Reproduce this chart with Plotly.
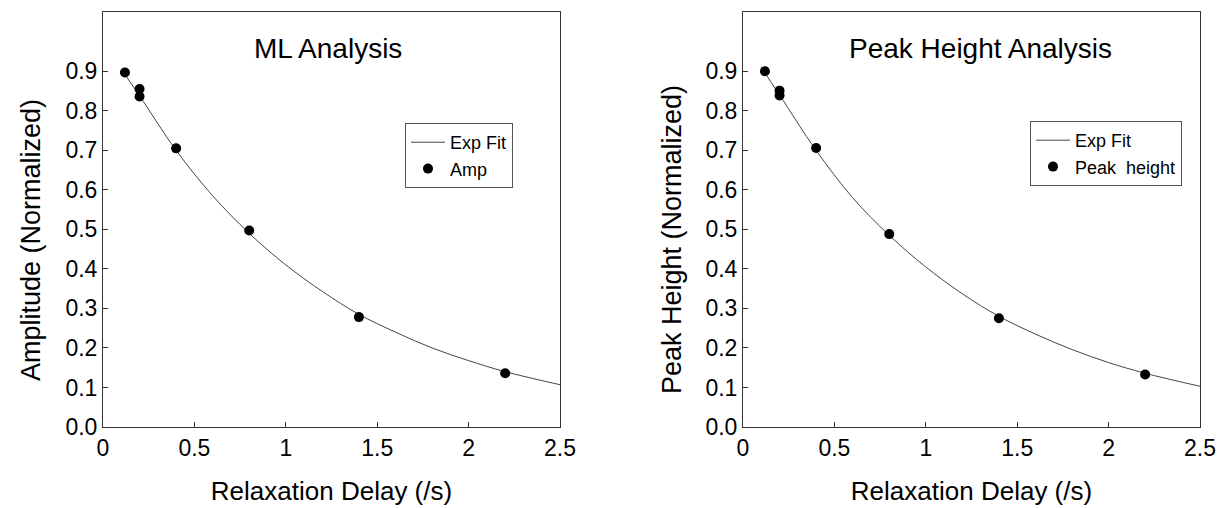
import plotly.graph_objects as go

# ---- data ----
delay_ml = [0.12, 0.2, 0.2, 0.4, 0.8, 1.4, 2.2]
amp_ml = [0.897, 0.855, 0.836, 0.705, 0.497, 0.278, 0.136]

fit_x_ml = [0.1, 0.2, 0.4, 0.6, 0.8, 1.0, 1.2, 1.4, 1.6, 1.8, 2.0, 2.2, 2.5]
fit_y_ml = [0.905, 0.838, 0.700, 0.585, 0.490, 0.410, 0.343, 0.285, 0.240, 0.200, 0.168, 0.140, 0.107]

delay_ph = [0.12, 0.2, 0.2, 0.4, 0.8, 1.4, 2.2]
height_ph = [0.900, 0.851, 0.839, 0.706, 0.488, 0.275, 0.133]

fit_x_ph = [0.1, 0.2, 0.4, 0.6, 0.8, 1.0, 1.2, 1.4, 1.6, 1.8, 2.0, 2.2, 2.5]
fit_y_ph = [0.910, 0.840, 0.700, 0.580, 0.485, 0.405, 0.337, 0.280, 0.235, 0.196, 0.163, 0.136, 0.103]

x_tickvals = [0, 0.5, 1, 1.5, 2, 2.5]
x_ticktext = ["0", "0.5", "1", "1.5", "2", "2.5"]
y_tickvals = [0, 0.1, 0.2, 0.3, 0.4, 0.5, 0.6, 0.7, 0.8, 0.9]
y_ticktext = ["0.0", "0.1", "0.2", "0.3", "0.4", "0.5", "0.6", "0.7", "0.8", "0.9"]

FONT = "Liberation Sans, Arial, Helvetica, sans-serif"
W, H = 1224, 508

fig = go.Figure()
fig.add_trace(go.Scatter(x=fit_x_ml, y=fit_y_ml, mode="lines", name="Exp Fit",
                         line=dict(color="#444444", width=1, shape="spline"),
                         xaxis="x", yaxis="y", legend="legend"))
fig.add_trace(go.Scatter(x=delay_ml, y=amp_ml, mode="markers", name="Amp",
                         marker=dict(color="black", size=10),
                         xaxis="x", yaxis="y", legend="legend"))
fig.add_trace(go.Scatter(x=fit_x_ph, y=fit_y_ph, mode="lines", name="Exp Fit",
                         line=dict(color="#444444", width=1, shape="spline"),
                         xaxis="x2", yaxis="y2", legend="legend2"))
fig.add_trace(go.Scatter(x=delay_ph, y=height_ph, mode="markers", name="Peak  height",
                         marker=dict(color="black", size=10),
                         xaxis="x2", yaxis="y2", legend="legend2"))

def xax(domain, anchor):
    return dict(domain=domain, anchor=anchor, range=[0, 2.5], automargin=False,
                tickvals=x_tickvals, ticktext=x_ticktext,
                ticks="inside", ticklen=5, tickcolor="#333333",
                showline=True, linecolor="#333333", linewidth=1, mirror=True,
                showgrid=False, zeroline=False,
                tickfont=dict(family=FONT, size=23, color="black"),
                title=dict(text="Relaxation Delay (/s)", standoff=22,
                           font=dict(family=FONT, size=26, color="black")))

def yax(domain, anchor):
    return dict(domain=domain, anchor=anchor, range=[0, 1.05], automargin=False,
                tickvals=y_tickvals, ticktext=y_ticktext,
                ticks="inside", ticklen=5, tickcolor="#333333",
                showline=True, linecolor="#333333", linewidth=1, mirror=True,
                showgrid=False, zeroline=False,
                tickfont=dict(family=FONT, size=23, color="black"))

ydom = [81 / H, 496 / H]
fig.update_layout(
    width=W, height=H,
    margin=dict(l=0, r=0, t=0, b=0, autoexpand=False),
    paper_bgcolor="white", plot_bgcolor="white",
    font=dict(family=FONT, color="black"),
    xaxis=xax([103 / W, 560 / W], "y"),
    yaxis=yax(ydom, "x"),
    xaxis2=xax([743 / W, 1200 / W], "y2"),
    yaxis2=yax(ydom, "x2"),
    legend=dict(x=405 / W, y=1 - 123 / H, xanchor="left", yanchor="top",
                bgcolor="white", bordercolor="#555555", borderwidth=1,
                font=dict(family=FONT, size=18, color="black"),
                tracegroupgap=0, itemwidth=34),
    legend2=dict(x=1030 / W, y=1 - 121 / H, xanchor="left", yanchor="top",
                 bgcolor="white", bordercolor="#555555", borderwidth=1,
                 font=dict(family=FONT, size=18, color="black"),
                 tracegroupgap=0, itemwidth=34),
    showlegend=True,
    annotations=[
        dict(text="ML Analysis", x=328 / W, y=1 - 48 / H, xref="paper", yref="paper",
             xanchor="center", yanchor="middle", showarrow=False,
             font=dict(family=FONT, size=28, color="black")),
        dict(text="Peak Height Analysis", x=980 / W, y=1 - 48 / H, xref="paper", yref="paper",
             xanchor="center", yanchor="middle", showarrow=False,
             font=dict(family=FONT, size=28, color="black")),
        dict(text="Amplitude (Normalized)", x=31 / W, y=1 - 240 / H, xref="paper", yref="paper",
             xanchor="center", yanchor="middle", showarrow=False, textangle=-90,
             font=dict(family=FONT, size=27, color="black")),
        dict(text="Peak Height (Normalized)", x=672 / W, y=1 - 240 / H, xref="paper", yref="paper",
             xanchor="center", yanchor="middle", showarrow=False, textangle=-90,
             font=dict(family=FONT, size=27, color="black")),
    ],
)

fig.write_html("out.html")
